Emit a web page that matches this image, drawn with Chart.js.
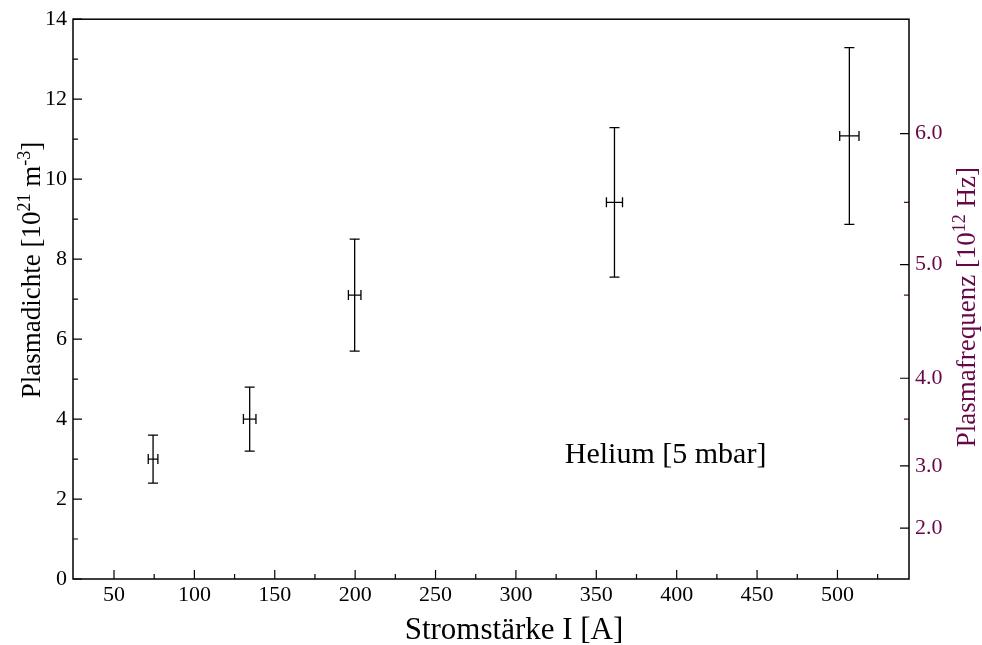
<!DOCTYPE html>
<html>
<head>
<meta charset="utf-8">
<script src="https://cdn.jsdelivr.net/npm/chart.js@4.4.0/dist/chart.umd.min.js"></script>
<style>
  html, body { margin: 0; padding: 0; background: #fff; }
  #wrap { width: 982px; height: 645px; }
</style>
</head>
<body>
<div id="wrap"><canvas id="chart" width="982" height="645"></canvas></div>
<script>
// measured values (Helium, 5 mbar)
const current = [74.3, 134.4, 199.7, 361.3, 507.4]
const currentErr = [3.0, 3.9, 3.9, 5.0, 6.0]
const density = [3.0, 4.0, 7.1, 9.42, 11.08]
const densityErr = [0.6, 0.8, 1.4, 1.87, 2.21]

// axis ticks
const xTicks = [50, 100, 150, 200, 250, 300, 350, 400, 450, 500]
const xMinor = [75, 125, 175, 225, 275, 325, 375, 425, 475, 525]
const yTicks = [0, 2, 4, 6, 8, 10, 12, 14]
const yMinor = [1, 3, 5, 7, 9, 11, 13]
// right axis: plasma frequency ticks, placed at the matching density
const freqTickDensity = [1.27, 2.83, 5.02, 7.86, 11.14]
const freqTickLabels = ['2.0', '3.0', '4.0', '5.0', '6.0']
const freqMinorDensity = [9.42, 7.1, 4.0]

const maroon = '#670748'
const serif = '"Liberation Serif", "DejaVu Serif", serif'

// draws text with superscript parts, centred on x, baseline y (current transform)
let drawRich = function (ctx, parts, x, y, size) {
  let supSize = Math.round(size * 0.68)
  let widths = parts.map(p => {
    ctx.font = `${ p.sup ? supSize : size }px ${ serif }`
    return ctx.measureText(p.t).width
  })
  let total = widths.reduce((a, b) => a + b, 0)
  let cx = x - total / 2
  ctx.textAlign = 'left'
  ctx.textBaseline = 'alphabetic'
  parts.forEach((p, i) => {
    ctx.font = `${ p.sup ? supSize : size }px ${ serif }`
    ctx.fillText(p.t, cx, p.sup ? y - size * 0.38 : y)
    cx += widths[i]
  })
}

let decorations = {
  id: 'decorations',
  afterDatasetsDraw (chart) {
    let ctx = chart.ctx
    let area = chart.chartArea
    let xs = chart.scales.x
    let ys = chart.scales.y
    ctx.save()

    // error bars
    ctx.strokeStyle = '#000'
    ctx.lineWidth = 1.3
    current.forEach((c, i) => {
      let px = xs.getPixelForValue(c)
      let py = ys.getPixelForValue(density[i])
      let top = ys.getPixelForValue(density[i] + densityErr[i])
      let bot = ys.getPixelForValue(density[i] - densityErr[i])
      let left = xs.getPixelForValue(c - currentErr[i])
      let right = xs.getPixelForValue(c + currentErr[i])
      ctx.beginPath()
      ctx.moveTo(px, top); ctx.lineTo(px, bot)
      ctx.moveTo(px - 5, top); ctx.lineTo(px + 5, top)
      ctx.moveTo(px - 5, bot); ctx.lineTo(px + 5, bot)
      ctx.moveTo(left, py); ctx.lineTo(right, py)
      ctx.moveTo(left, py - 5); ctx.lineTo(left, py + 5)
      ctx.moveTo(right, py - 5); ctx.lineTo(right, py + 5)
      ctx.stroke()
    })

    // inward tick marks
    ctx.lineWidth = 1.2
    ctx.beginPath()
    xTicks.forEach(v => { let p = xs.getPixelForValue(v); ctx.moveTo(p, area.bottom); ctx.lineTo(p, area.bottom - 9) })
    xMinor.forEach(v => { let p = xs.getPixelForValue(v); ctx.moveTo(p, area.bottom); ctx.lineTo(p, area.bottom - 5) })
    yTicks.forEach(v => { let p = ys.getPixelForValue(v); ctx.moveTo(area.left, p); ctx.lineTo(area.left + 9, p) })
    yMinor.forEach(v => { let p = ys.getPixelForValue(v); ctx.moveTo(area.left, p); ctx.lineTo(area.left + 5, p) })
    freqTickDensity.forEach(v => { let p = ys.getPixelForValue(v); ctx.moveTo(area.right, p); ctx.lineTo(area.right - 9, p) })
    ctx.stroke()
    ctx.strokeStyle = maroon
    ctx.beginPath()
    freqMinorDensity.forEach(v => { let p = ys.getPixelForValue(v); ctx.moveTo(area.right, p); ctx.lineTo(area.right - 5, p) })
    ctx.stroke()

    // frame
    ctx.strokeStyle = '#000'
    ctx.lineWidth = 1.5
    ctx.strokeRect(area.left, area.top, area.right - area.left, area.bottom - area.top)

    // axis titles
    ctx.fillStyle = '#000'
    ctx.font = `31px ${ serif }`
    ctx.textAlign = 'center'
    ctx.textBaseline = 'alphabetic'
    ctx.fillText('Stromstärke I [A]', (area.left + area.right) / 2 + 23, 639)

    ctx.save()
    ctx.translate(40, (area.top + area.bottom) / 2 - 29)
    ctx.rotate(-Math.PI / 2)
    drawRich(ctx, [{ t: 'Plasmadichte [10' }, { t: '21', sup: true }, { t: ' m' }, { t: '-3', sup: true }, { t: ']' }], 0, 0, 27)
    ctx.restore()

    ctx.save()
    ctx.fillStyle = maroon
    ctx.translate(975, (area.top + area.bottom) / 2 + 8)
    ctx.rotate(-Math.PI / 2)
    drawRich(ctx, [{ t: 'Plasmafrequenz [10' }, { t: '12', sup: true }, { t: ' Hz]' }], 0, 0, 27)
    ctx.restore()

    // annotation
    ctx.fillStyle = '#000'
    ctx.font = `30px ${ serif }`
    ctx.textAlign = 'left'
    ctx.fillText('Helium [5 mbar]', xs.getPixelForValue(330.4), ys.getPixelForValue(2.9))

    ctx.restore()
  }
}

let tickFont = { family: serif, size: 22 }

new Chart(document.getElementById('chart'), {
  type: 'scatter',
  data: {
    datasets: [{
      data: current.map((c, i) => ({ x: c, y: density[i] })),
      pointRadius: 0,
      yAxisID: 'y'
    }]
  },
  options: {
    responsive: false,
    animation: false,
    devicePixelRatio: 1,
    layout: { padding: { top: 17, left: 0, right: 0, bottom: 0 } },
    plugins: { legend: { display: false }, tooltip: { enabled: false } },
    scales: {
      x: {
        type: 'linear',
        min: 24.5,
        max: 544.5,
        afterBuildTicks: s => { s.ticks = xTicks.map(v => ({ value: v })) },
        afterFit: s => { s.height = 66 },
        ticks: { font: tickFont, color: '#000', padding: 3, maxRotation: 0, autoSkip: false },
        grid: { display: false, drawTicks: false },
        border: { display: false }
      },
      y: {
        type: 'linear',
        position: 'left',
        min: 0,
        max: 14,
        afterBuildTicks: s => { s.ticks = yTicks.map(v => ({ value: v })) },
        afterFit: s => { s.width = 73 },
        ticks: { font: tickFont, color: '#000', padding: 6, autoSkip: false },
        grid: { display: false, drawTicks: false },
        border: { display: false }
      },
      y2: {
        type: 'linear',
        position: 'right',
        min: 0,
        max: 14,
        afterBuildTicks: s => { s.ticks = freqTickDensity.map(v => ({ value: v })) },
        afterFit: s => { s.width = 73 },
        ticks: {
          font: tickFont,
          color: maroon,
          padding: 6,
          autoSkip: false,
          callback: (v, i) => freqTickLabels[i]
        },
        grid: { display: false, drawTicks: false },
        border: { display: false }
      }
    }
  },
  plugins: [decorations]
})
</script>
</body>
</html>
